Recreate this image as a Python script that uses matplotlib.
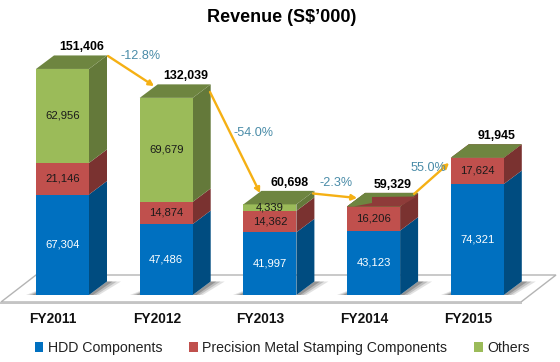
import matplotlib
matplotlib.use("Agg")
import matplotlib.pyplot as plt
from matplotlib.patches import Polygon

plt.rcParams["font.family"] = ["Liberation Sans", "DejaVu Sans"]

years = ["FY2011", "FY2012", "FY2013", "FY2014", "FY2015"]
hdd = [67304, 47486, 41997, 43123, 74321]
precision = [21146, 14874, 14362, 16206, 17624]
others = [62956, 69679, 4339, 0, 0]
totals = [151406, 132039, 60698, 59329, 91945]
growth = ["-12.8%", "-54.0%", "-2.3%", "55.0%"]

# px scale
PX_PER_CAT = 103.7
PX_PER_VAL = 0.001493
X0 = 62.5
Y0 = 295.0
W, H = 560, 362

WIDTH = 53 / PX_PER_CAT
DX = 18 / PX_PER_CAT
DY = 13.5 / PX_PER_VAL


def px_x(p):
    return (p - X0) / PX_PER_CAT


def px_y(p):
    return (Y0 - p) / PX_PER_VAL


def fmt(v):
    return f"{v:,}"


fig = plt.figure(figsize=(W / 100, H / 100), dpi=100)
ax = fig.add_axes([0, 0, 1, 1])
ax.set_xlim(px_x(0), px_x(W))
ax.set_ylim(px_y(H), px_y(0))
ax.axis("off")

# ---------------- FLOOR ----------------

floor = [(1, 302), (521, 302), (556, 275), (36, 275)]
ax.add_patch(Polygon([(px_x(a), px_y(b)) for a, b in floor], closed=True,
                     fc="white", ec="#b4b4b4", lw=1.0, zorder=1))
ax.plot([px_x(1), px_x(521)], [px_y(302.5), px_y(302.5)], color="#c4c4c4", lw=1.4, zorder=1)

# ---------------- SHADOWS ----------------

for i in range(len(years)):
    left = i - WIDTH / 2
    right = i + WIDTH / 2
    for reach, alpha in [(1.0, 0.14), (0.7, 0.20), (0.4, 0.28)]:
        ax.add_patch(Polygon([(right, 0), (right + DX, DY),
                              (right + DX + reach * 14 / PX_PER_CAT, DY),
                              (right + reach * 10 / PX_PER_CAT, 0)],
                             closed=True, fc="#303030", ec="none", alpha=alpha, zorder=2))
        ax.add_patch(Polygon([(left - reach * 10 / PX_PER_CAT, 0), (left, 0),
                              (left, 4 / PX_PER_VAL * reach)],
                             closed=True, fc="#303030", ec="none", alpha=alpha, zorder=2))

# ---------------- BARS ----------------

series = [
    ("HDD Components", hdd, "#0070c0", "#004c80", "#005a9a", "white"),
    ("Precision Metal Stamping Components", precision, "#c0504d", "#7a3230", "#8e3b39", "#1a1a1a"),
    ("Others", others, "#9bbb59", "#64793a", "#6e8540", "#1a1a1a"),
]

bottom = [0] * len(years)
handles = []
for name, vals, front, side, top, txt in series:
    bars = ax.bar(range(len(years)), vals, WIDTH, bottom=bottom, color=front, zorder=4, label=name)
    handles.append(bars)
    for i, v in enumerate(vals):
        right = i + WIDTH / 2
        b = bottom[i]
        if v > 0:
            ax.add_patch(Polygon([(right, b), (right + DX, b + DY),
                                  (right + DX, b + v + DY), (right, b + v)],
                                 closed=True, fc=side, ec="none", zorder=3.5))
            ax.text(i, b + v / 2, fmt(v), ha="center", va="center", fontsize=8.1, color=txt, zorder=6)
        if b + v == totals[i]:
            ax.add_patch(Polygon([(i - WIDTH / 2, b + v), (right, b + v),
                                  (right + DX, b + v + DY), (i - WIDTH / 2 + DX, b + v + DY)],
                                 closed=True, fc=top, ec="none", zorder=5))
    bottom = [b + v for b, v in zip(bottom, vals)]

# FY2014: the empty "Others" block shows through the top of the stack
t = totals[3]
ax.add_patch(Polygon([(3 - WIDTH / 2, t), (3 + WIDTH / 2, t),
                      (3 + WIDTH / 2 + DX, t + DY), (3 - WIDTH / 2 + DX, t + DY)],
                     closed=True, fc="#6e8540", ec="none", zorder=5))
notch = [(354, 206.4), (372, 203), (372, 197), (417, 196.5), (400, 206.4)]
ax.add_patch(Polygon([(px_x(a), px_y(b)) for a, b in notch], closed=True,
                     fc="#8e3b39", ec="none", zorder=5.2))

# ---------------- LABELS ----------------

for i, v in enumerate(totals):
    ax.text(i + 19.5 / PX_PER_CAT, v + DY + 8 / PX_PER_VAL, fmt(v), ha="center", va="center",
            fontsize=8.9, fontweight="bold", color="black", zorder=7)
    ax.text(i - 9.5 / PX_PER_CAT, px_y(319), years[i], ha="center", va="center",
            fontsize=9.9, fontweight="bold", color="#111111")

arrows = [((108, 56), (154, 86)), ((210, 92), (260, 193)), ((313, 193.5), (357, 198)), ((414, 194), (449, 163))]
for (a, b), (c, d) in arrows:
    ax.annotate("", xy=(px_x(c), px_y(d)), xytext=(px_x(a), px_y(b)), zorder=6.5,
                arrowprops=dict(arrowstyle="-|>,head_length=0.3,head_width=0.16", color="#f5b014",
                                lw=1.7, shrinkA=0, shrinkB=0))

growth_pos = [(141, 56), (253, 132.5), (336, 183), (428, 168)]
for label, (a, b) in zip(growth, growth_pos):
    ax.text(px_x(a), px_y(b), label, ha="center", va="center", fontsize=9.1, color="#4a8ca8", zorder=7)

ax.text(px_x(281.5), px_y(18), "Revenue (S$\u2019000)", ha="center", va="center",
        fontsize=13.0, fontweight="bold", color="black")

ax.legend(handles=handles, loc="center", bbox_to_anchor=(282 / W, 1 - 348 / H), ncol=3, frameon=False,
          fontsize=10.2, handlelength=0.62, handleheight=0.62, handletextpad=0.3,
          columnspacing=1.9, labelcolor="#222222")

fig.savefig("out.png", dpi=100)
plt.close(fig)
